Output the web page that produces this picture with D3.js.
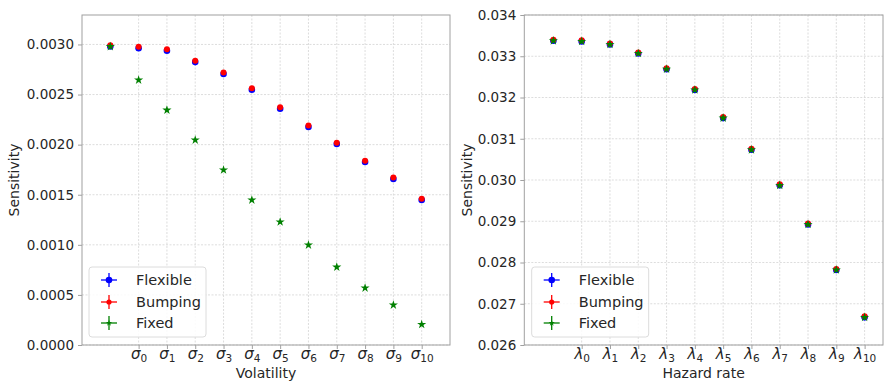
<!DOCTYPE html>
<html>
<head>
<meta charset="utf-8">
<script src="https://cdn.jsdelivr.net/npm/d3@7"></script>
<style>
  body { margin: 0; background: #fff; }
  text { font-family: "DejaVu Sans", sans-serif; fill: #262626; }
</style>
</head>
<body>
<svg id="chart" width="884" height="381"></svg>
<script>
// x positions 0..11, ticks at 1..11 labelled with subscripts 0..10
var xs = [0, 1, 2, 3, 4, 5, 6, 7, 8, 9, 10, 11];
var tickPos = [1, 2, 3, 4, 5, 6, 7, 8, 9, 10, 11];
var tickSubs = ["0", "1", "2", "3", "4", "5", "6", "7", "8", "9", "10"];
var seriesNames = ["Flexible", "Bumping", "Fixed"];

// volatility panel
var flexVol = [0.002979, 0.002962, 0.002937, 0.002824, 0.002705, 0.002548, 0.002358, 0.002176, 0.002006, 0.001826, 0.001657, 0.001447];
var bumpVol = [0.002992, 0.002976, 0.002951, 0.002838, 0.002719, 0.002562, 0.002372, 0.002190, 0.002020, 0.001840, 0.001671, 0.001461];
var fixVol  = [0.002979, 0.002645, 0.002345, 0.002046, 0.001747, 0.001447, 0.001228, 0.000998, 0.000778, 0.000569, 0.000399, 0.000205];
var volTicks = [0, 0.0005, 0.001, 0.0015, 0.002, 0.0025, 0.003];

// hazard rate panel
var flexHaz = [0.033375, 0.033360, 0.033287, 0.033068, 0.032686, 0.032183, 0.031501, 0.030732, 0.029870, 0.028922, 0.027820, 0.026670];
var bumpHaz = [0.033400, 0.033385, 0.033312, 0.033093, 0.032711, 0.032208, 0.031526, 0.030757, 0.029895, 0.028947, 0.027845, 0.026695];
var fixHaz  = [0.033375, 0.033360, 0.033287, 0.033068, 0.032686, 0.032183, 0.031501, 0.030732, 0.029870, 0.028922, 0.027820, 0.026670];
var hazTicks = [0.026, 0.027, 0.028, 0.029, 0.030, 0.031, 0.032, 0.033, 0.034];

var svg = d3.select("#chart");

function panel(opt) {
    var x = d3.scaleLinear().domain(opt.xDomain).range([opt.left, opt.right]);
    var y = d3.scaleLinear().domain(opt.yDomain).range([opt.bottom, opt.top]);
    var g = svg.append("g");

    // grid
    g.selectAll(".gx").data(tickPos).enter().append("line")
        .attr("x1", function(d) { return x(d); }).attr("x2", function(d) { return x(d); })
        .attr("y1", opt.top).attr("y2", opt.bottom)
        .attr("stroke", "#d4d4d4").attr("stroke-width", 0.8).attr("stroke-dasharray", "2,1.5");
    g.selectAll(".gy").data(opt.yTicks).enter().append("line")
        .attr("x1", opt.left).attr("x2", opt.right)
        .attr("y1", function(d) { return y(d); }).attr("y2", function(d) { return y(d); })
        .attr("stroke", "#d4d4d4").attr("stroke-width", 0.8).attr("stroke-dasharray", "2,1.5");

    // y axis
    var ya = d3.axisLeft(y).tickValues(opt.yTicks).tickFormat(d3.format(opt.yFormat)).tickSize(4).tickPadding(4);
    var yg = g.append("g").attr("transform", "translate(" + opt.left + ",0)").call(ya);
    yg.select(".domain").remove();
    yg.selectAll(".tick line").attr("stroke", "#a0a0a0");
    yg.selectAll(".tick text").attr("font-size", "13.5px").attr("fill", "#262626");

    // x axis with subscripted greek labels
    var xa = d3.axisBottom(x).tickValues(tickPos).tickFormat("").tickSize(4);
    var xg = g.append("g").attr("transform", "translate(0," + opt.bottom + ")").call(xa);
    xg.select(".domain").remove();
    xg.selectAll(".tick line").attr("stroke", "#a0a0a0");
    xg.selectAll(".tick").append("text")
        .attr("y", 14).attr("text-anchor", "middle").attr("font-size", "15px").attr("fill", "#262626")
        .each(function(d, i) {
            var t = d3.select(this);
            t.append("tspan").attr("font-style", "italic").text(opt.greek);
            t.append("tspan").attr("font-size", "10.5px").attr("dy", 3).text(tickSubs[i]);
        });

    // frame
    g.append("rect").attr("x", opt.left).attr("y", opt.top)
        .attr("width", opt.right - opt.left).attr("height", opt.bottom - opt.top)
        .attr("fill", "none").attr("stroke", "#a0a0a0").attr("stroke-width", 1);

    // axis titles
    g.append("text").attr("x", (opt.left + opt.right) / 2).attr("y", 378)
        .attr("text-anchor", "middle").attr("font-size", "14px").text(opt.xTitle);
    g.append("text").attr("transform", "translate(" + opt.yTitleX + "," + (opt.top + opt.bottom) / 2 + ") rotate(-90)")
        .attr("text-anchor", "middle").attr("font-size", "14px").text("Sensitivity");

    // points: blue, red, green
    var star = d3.symbol().type(d3.symbolStar).size(26);
    g.selectAll(".flex").data(xs).enter().append("circle")
        .attr("cx", function(d) { return x(d); }).attr("cy", function(d, i) { return y(opt.flex[i]); })
        .attr("r", 3.3).attr("fill", "blue");
    g.selectAll(".bump").data(xs).enter().append("circle")
        .attr("cx", function(d) { return x(d); }).attr("cy", function(d, i) { return y(opt.bump[i]); })
        .attr("r", 3).attr("fill", "red");
    g.selectAll(".fix").data(xs).enter().append("path")
        .attr("d", star)
        .attr("transform", function(d, i) { return "translate(" + x(d) + "," + y(opt.fix[i]) + ")"; })
        .attr("fill", "green");

    // legend
    var lg = g.append("g");
    lg.append("rect").attr("x", opt.legX).attr("y", 267).attr("width", opt.legW).attr("height", 70)
        .attr("rx", 3).attr("fill", "#fff").attr("fill-opacity", 0.85).attr("stroke", "#dcdcdc");
    var colors = ["blue", "red", "green"];
    var rows = [280, 302, 323];
    seriesNames.forEach(function(name, i) {
        var cx = opt.legX + 20, cy = rows[i];
        lg.append("line").attr("x1", cx - 8).attr("x2", cx + 8).attr("y1", cy).attr("y2", cy)
            .attr("stroke", colors[i]).attr("stroke-width", 1.3);
        lg.append("line").attr("x1", cx).attr("x2", cx).attr("y1", cy - 7).attr("y2", cy + 7)
            .attr("stroke", colors[i]).attr("stroke-width", 1.3);
        if (i == 0) lg.append("circle").attr("cx", cx).attr("cy", cy).attr("r", 3.3).attr("fill", colors[i]);
        if (i == 1) lg.append("circle").attr("cx", cx).attr("cy", cy).attr("r", 2.6).attr("fill", colors[i]);
        if (i == 2) lg.append("path").attr("d", d3.symbol().type(d3.symbolStar).size(12))
            .attr("transform", "translate(" + cx + "," + cy + ")").attr("fill", colors[i]);
        lg.append("text").attr("x", opt.legX + 47).attr("y", cy + 5).attr("font-size", "14.5px").text(name);
    });
}

panel({
    left: 82, right: 450, top: 15, bottom: 345,
    xDomain: [-1, 12], yDomain: [0, 0.003294], yTicks: volTicks, yFormat: ".4f",
    greek: "σ", xTitle: "Volatility", yTitleX: 19,
    flex: flexVol, bump: bumpVol, fix: fixVol,
    legX: 89, legW: 117
});

panel({
    left: 524.3, right: 883, top: 15, bottom: 345,
    xDomain: [-1.028, 11.65], yDomain: [0.026, 0.034], yTicks: hazTicks, yFormat: ".3f",
    greek: "λ", xTitle: "Hazard rate", yTitleX: 472,
    flex: flexHaz, bump: bumpHaz, fix: fixHaz,
    legX: 531.7, legW: 117
});
</script>
</body>
</html>
